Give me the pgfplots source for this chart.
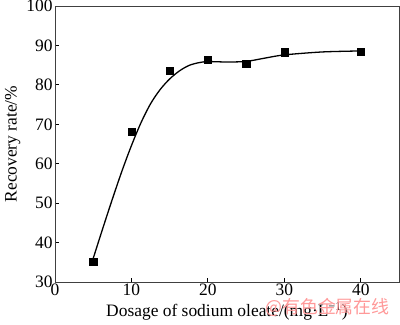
\documentclass[border=0pt]{standalone}
\usepackage{fontspec}
\setmainfont{Liberation Serif}
\newfontfamily\cjk{Noto Sans CJK SC}
\usepackage{pgfplots}
\pgfplotsset{compat=1.18}
\begin{document}
\begin{tikzpicture}[x=1bp,y=1bp]
\begin{axis}[name=ax, at={(0,0)}, anchor=south west,
  scale only axis, width=344bp, height=276bp,
  xmin=0, xmax=45, ymin=30, ymax=100,
  xtick={0,10,20,30,40}, ytick={30,40,...,100},
  xtick pos=bottom, ytick pos=left, tick align=inside,
  major tick length=4bp,
  axis line style={line width=0.9pt, black!75},
  tick style={line width=0.8pt, black},
  /pgf/number format/assume math mode=true,
  tick label style={font=\fontsize{17.5}{17.5}\selectfont},
  xticklabel style={yshift=2bp},
  yticklabel style={xshift=1bp},
  xlabel={Dosage of sodium oleate/(mg·L\textsuperscript{−1})},
  ylabel={Recovery rate/\%},
  label style={font=\fontsize{17.5}{17.5}\selectfont},
  xlabel style={yshift=0bp},
  ylabel style={yshift=-1bp},
]
\addplot[black, line width=1.3pt, smooth, tension=0.5] coordinates {
(5,36.0) (6.25,43.6) (7.5,51.0) (8.75,58.1) (10,64.6) (11.25,70.4) (12.5,75.2) (13.75,78.8) (15,81.5) (16.25,83.5) (17.5,84.9) (18.75,85.6) (20,85.9) (22.5,85.8) (25,85.95) (27.5,86.8) (30,87.6) (35,88.35) (40,88.6)
};
\addplot[only marks, mark=square*, mark size=3.6bp, black] coordinates {
(5,35.1) (10,68.2) (15,83.5) (20,86.4) (25,85.4) (30,88.3) (40,88.5)
};
\end{axis}
\node[anchor=south west, text=red!40, font=\cjk\fontsize{18}{18}\selectfont, inner sep=0pt] at (210bp,-35bp) {@有色金属在线};
\pgfresetboundingbox
\path[use as bounding box] (-55bp,-43bp) rectangle (345bp,282bp);
\end{tikzpicture}
\end{document}
